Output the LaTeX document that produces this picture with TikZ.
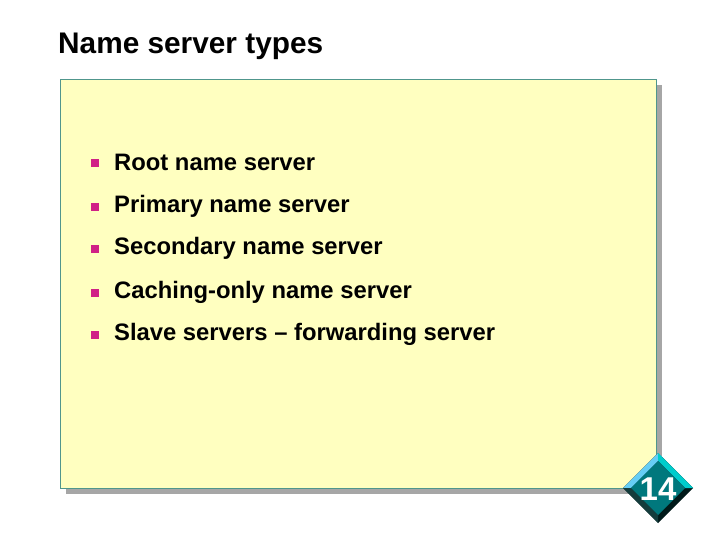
\documentclass[tikz,border=0pt]{standalone}
\usepackage{fontspec}
\setmainfont{Liberation Sans}
\definecolor{bg}{RGB}{255,255,192}
\definecolor{frame}{RGB}{80,150,140}
\definecolor{dk}{RGB}{20,60,60}
\definecolor{mid}{RGB}{0,120,125}
\begin{document}
\begin{tikzpicture}[x=1pt,y=-1pt,
  item/.style={anchor=west,font=\fontsize{23.8}{26}\selectfont\bfseries,inner sep=0},
  bul/.style={fill=magenta!85!black,minimum size=7.5pt,inner sep=0}]
\useasboundingbox (0,0) rectangle (720,540);
\fill[gray!70] (66,85) rectangle (662,494);
\draw[fill=bg,draw=frame,line width=0.8pt] (60,79) rectangle (656,488);
\node[anchor=west,inner sep=0,font=\fontsize{29.8}{32}\selectfont\bfseries] (title) at (58,46) {Name server types};
\foreach \y/\t [count=\i] in {162/Root name server,206/Primary name server,248/Secondary name server,292/Caching-only name server,334/Slave servers -- forwarding server}{
  \node[bul] (b\i) at (95,\y+1) {};
  \node[item] (t\i) at (114,\y) {\t};
}
% badge
\fill[black!80!teal] (623,488) -- (658,453) -- (693,488) -- (658,523) -- cycle;
\fill[cyan!60] (623,488) -- (658,453) -- (662,457) -- (631,488) -- cycle;
\fill[teal!40!cyan] (658,453) -- (693,488) -- (685,488) -- (658,461) -- cycle;
\fill[dk] (623,488) -- (631,488) -- (658,515) -- (658,523) -- cycle;
\fill[mid] (631,488) -- (658,461) -- (685,488) -- (658,515) -- cycle;
\node[text=white,font=\fontsize{33}{35}\selectfont\bfseries] (badge) at (658,489) {14};
\end{tikzpicture}
\end{document}
